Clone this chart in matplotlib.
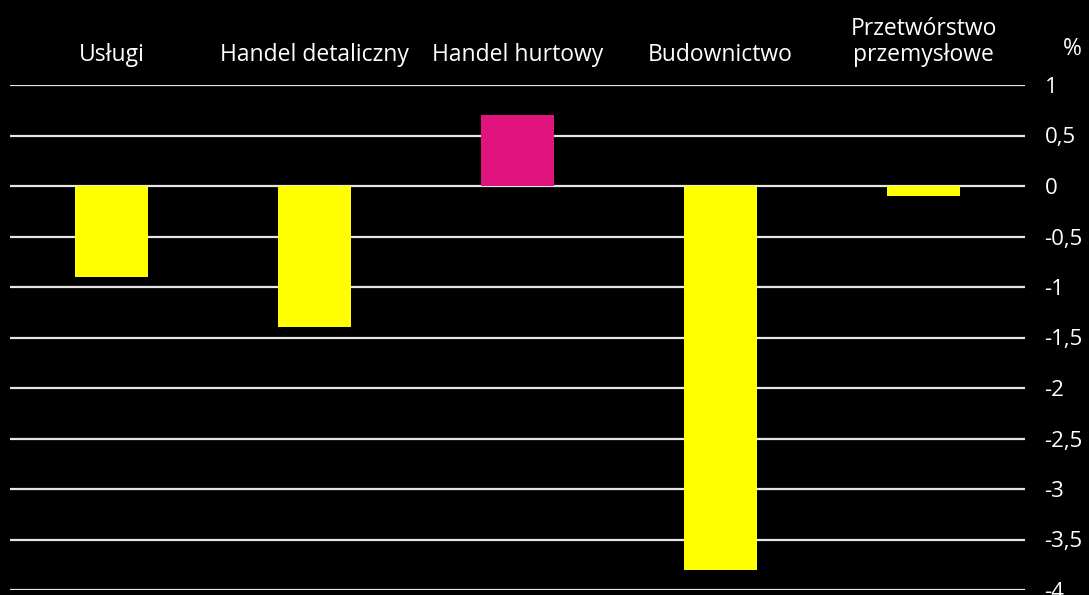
import matplotlib.pyplot as plt
import numpy as np

# data
categories = ['Usługi', 'Handel detaliczny', 'Handel hurtowy', 'Budownictwo', 'Przetwórstwo\nprzemysłowe']
values = [-0.9, -1.4, 0.7, -3.8, -0.1]
bar_colors = ['#ffff00', '#ffff00', '#e0137f', '#ffff00', '#ffff00']
yticks = [1, 0.5, 0, -0.5, -1, -1.5, -2, -2.5, -3, -3.5, -4]
ytick_labels = ['1', '0,5', '0', '-0,5', '-1', '-1,5', '-2', '-2,5', '-3', '-3,5', '-4']

plt.rcParams['font.family'] = ['Open Sans', 'DejaVu Sans']

fig = plt.figure(figsize=(10.89, 5.95), dpi=100, facecolor='black')
ax = fig.add_axes([10 / 1089, 5 / 595, 1015 / 1089, 505 / 595])
ax.set_facecolor('black')

x = np.arange(len(categories))
ax.bar(x, values, width=0.355, color=bar_colors, zorder=3)

# horizontal grid lines
for t in yticks:
    ax.axhline(t, color='#e6e6e6', linewidth=1.6, zorder=1)

ax.set_xlim(-0.5, len(categories) - 0.5)
ax.set_ylim(-4, 1)
for s in ax.spines.values():
    s.set_visible(False)
ax.set_xticks([])
ax.set_yticks(yticks)
ax.set_yticklabels(ytick_labels)
ax.yaxis.tick_right()
ax.tick_params(axis='y', length=0, pad=14, labelsize=16, labelcolor='white')
for lbl in ax.get_yticklabels():
    lbl.set_horizontalalignment('left')

# category labels above plot
for xi, cat in zip(x, categories):
    ax.annotate(cat, xy=(xi, 1), xycoords='data', xytext=(0, 17.5),
                textcoords='offset points', ha='center', va='baseline',
                color='white', fontsize=16.5, linespacing=1.1)

ax.annotate('%', xy=(1, 1), xycoords='axes fraction', xytext=(34, 21.5),
            textcoords='offset points', ha='center', va='baseline',
            color='white', fontsize=16.5)

fig.savefig('out.png', dpi=100, facecolor='black')
